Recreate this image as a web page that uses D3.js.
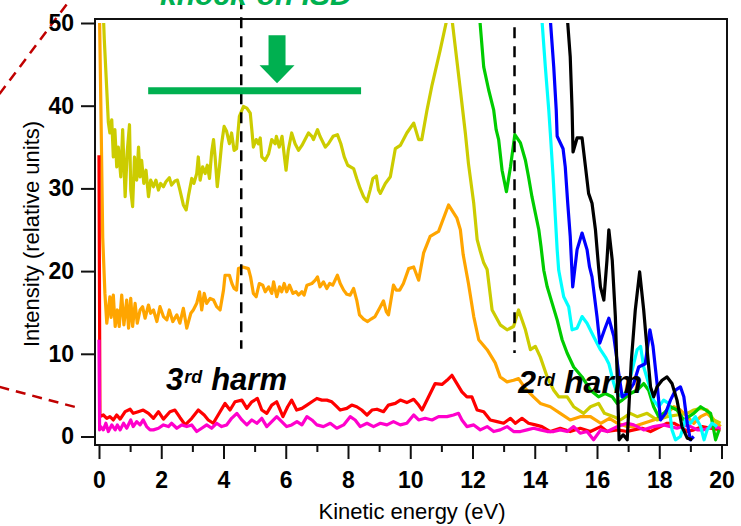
<!DOCTYPE html>
<html>
<head>
<meta charset="utf-8">
<script src="https://cdn.jsdelivr.net/npm/d3@7"></script>
<style>
  body { margin: 0; background: #fff; }
  svg { display: block; }
  text { font-family: "Liberation Sans", Arial, sans-serif; }
</style>
</head>
<body>
<svg id="chart" width="741" height="526"></svg>
<script>
// Photoelectron spectra: intensity vs kinetic energy, one trace per condition.
const xTicks = [0, 2, 4, 6, 8, 10, 12, 14, 16, 18, 20];
const xMinorTicks = [1, 3, 5, 7, 9, 11, 13, 15, 17, 19];
const yTicks = [0, 10, 20, 30, 40, 50];

const seriesColors = {
  orange: "#ffa500", yellow: "#cccc00", red: "#ff0000", magenta: "#ff00cc",
  green: "#00cc00", cyan: "#00ffff", blue: "#0000ff", black: "#000000"
};

const orangePts = [[0.0,55],[0.06,40],[0.12,24],[0.19,17.3],[0.25,13.7],[0.35,16.9],[0.39,14.4],[0.46,17.1],[0.52,13.3],[0.59,15.3],[0.65,13.3],[0.73,17.1],[0.80,13.5],[0.89,16.5],[0.95,13.1],[1.02,16.7],[1.08,13.3],[1.16,16.1],[1.23,13.7],[1.32,15.3],[1.40,15.7],[1.48,14.3],[1.59,15.9],[1.66,14.9],[1.75,15.3],[1.86,13.9],[1.96,15.7],[2.07,14.5],[2.18,14.1],[2.26,15.3],[2.37,13.9],[2.50,14.7],[2.60,13.7],[2.71,15.5],[2.82,13.1],[2.95,14.9],[3.03,15.3],[3.14,16.1],[3.23,17.5],[3.30,15.3],[3.38,17.3],[3.46,16.1],[3.57,16.7],[3.68,16.5],[3.78,15.7],[3.89,15.3],[4.00,17.7],[4.05,19.5],[4.19,19.5],[4.27,18.5],[4.34,17.9],[4.42,17.7],[4.48,20.3],[4.62,20.5],[4.80,20.3],[4.87,19.3],[4.96,17.3],[5.05,16.9],[5.15,18.5],[5.26,18.3],[5.34,17.5],[5.45,18.1],[5.55,17.3],[5.61,18.7],[5.71,16.9],[5.80,18.1],[5.87,17.5],[5.95,18.5],[6.03,17.5],[6.12,18.3],[6.23,17.3],[6.33,17.5],[6.41,17.1],[6.52,17.5],[6.59,17.1],[6.68,18.3],[6.84,18.5],[6.95,18.9],[7.02,19.3],[7.10,18.1],[7.21,18.7],[7.32,17.9],[7.41,18.5],[7.51,18.3],[7.66,19.5],[7.75,18.5],[7.86,17.7],[7.96,17.2],[8.07,17.1],[8.18,17.9],[8.28,16.5],[8.37,14.7],[8.50,14.2],[8.63,13.9],[8.74,14.2],[8.87,14.5],[9.04,15.7],[9.14,16.4],[9.23,15.1],[9.30,14.7],[9.46,18.3],[9.55,17.7],[9.66,17.7],[9.78,18.5],[9.95,20.3],[10.11,20.5],[10.27,18.9],[10.43,22.2],[10.64,24.2],[10.91,24.8],[11.23,28.0],[11.50,26.4],[11.61,25.0],[11.70,22.0],[11.87,18.5],[12.04,14.5],[12.20,11.7],[12.47,10.5],[12.73,8.9],[12.89,7.2],[13.11,6.6],[13.32,6.8],[13.48,7.0],[13.70,5.8],[13.96,4.8],[14.18,4.0],[14.50,3.6],[14.82,2.8],[15.14,2.0],[15.46,2.4],[15.79,2.4],[16.12,1.6],[16.40,2.2],[16.65,1.6],[16.97,1.2],[17.18,1.2],[17.50,1.6],[17.82,2.0],[18.04,2.4],[18.25,2.8],[18.47,3.6],[18.68,3.2],[18.90,2.4],[19.11,1.6],[19.33,2.4],[19.54,2.8],[19.75,2.0],[19.97,1.2]];

const yellowPts = [[0.10,55],[0.17,48],[0.25,41.9],[0.30,38],[0.35,36.7],[0.41,38.3],[0.46,33.8],[0.51,37.1],[0.57,32.6],[0.62,35.0],[0.70,31.4],[0.76,37.1],[0.84,29.0],[0.91,34.6],[0.98,37.7],[1.02,29.8],[1.08,27.8],[1.14,33.8],[1.21,31.0],[1.27,35.0],[1.32,31.4],[1.37,33.4],[1.44,30.6],[1.51,32.2],[1.59,29.0],[1.66,31.0],[1.75,30.2],[1.83,31.0],[1.91,29.8],[1.98,30.6],[2.07,30.2],[2.15,30.8],[2.26,31.3],[2.33,30.4],[2.44,30.9],[2.52,31.0],[2.60,29.8],[2.71,28.0],[2.80,27.4],[2.87,29.0],[2.98,31.2],[3.05,30.6],[3.14,31.8],[3.19,33.8],[3.25,31.0],[3.33,32.6],[3.41,31.8],[3.48,32.8],[3.55,31.2],[3.62,34.4],[3.68,35.9],[3.73,33.8],[3.80,30.2],[3.87,32.6],[3.94,35.4],[4.02,37.5],[4.10,36.9],[4.19,35.4],[4.26,36.7],[4.34,34.6],[4.42,34.8],[4.51,38.7],[4.64,39.9],[4.75,39.7],[4.86,39.1],[4.91,37.1],[4.96,35.0],[5.05,35.9],[5.12,35.4],[5.18,36.1],[5.23,33.8],[5.34,33.4],[5.45,34.2],[5.55,35.9],[5.66,35.4],[5.70,36.3],[5.79,35.0],[5.88,36.3],[6.01,32.2],[6.08,34.6],[6.19,36.7],[6.30,35.4],[6.41,34.6],[6.52,35.2],[6.62,35.9],[6.73,36.7],[6.84,36.3],[6.89,35.9],[7.02,37.1],[7.10,36.3],[7.27,35.0],[7.37,35.4],[7.52,36.3],[7.66,36.5],[7.77,35.4],[7.88,33.8],[7.99,32.8],[8.18,32.4],[8.28,31.2],[8.39,30.0],[8.50,29.0],[8.61,28.4],[8.71,29.8],[8.80,31.2],[8.91,31.5],[8.98,29.8],[9.04,29.4],[9.20,30.6],[9.36,31.4],[9.52,34.8],[9.68,35.2],[9.89,36.7],[10.11,37.9],[10.27,35.9],[10.37,35.9],[10.54,39.5],[10.70,42.5],[10.96,46.7],[11.18,50.5],[11.26,51],[11.34,50.5],[11.61,41.9],[11.77,36.7],[11.87,33.0],[12.04,28.2],[12.15,23.8],[12.25,22.4],[12.36,21.0],[12.47,20.2],[12.63,15.3],[12.89,13.5],[13.11,12.9],[13.32,13.3],[13.48,15.3],[13.70,12.9],[13.86,10.5],[14.02,10.9],[14.18,9.6],[14.40,7.2],[14.61,5.6],[14.77,4.8],[15.04,4.8],[15.25,3.6],[15.57,2.8],[15.79,3.6],[16.05,4.0],[16.24,2.8],[16.54,2.4],[16.75,2.0],[17.07,2.8],[17.29,2.4],[17.61,2.8],[17.93,2.0],[18.25,2.4],[18.57,2.6],[18.90,2.8],[19.11,3.2],[19.33,3.4],[19.54,3.2],[19.75,2.0],[19.97,1.6]];

const redPts = [[0,34],[0.03,2.4],[0.14,2.6],[0.25,2.2],[0.35,2.4],[0.46,2.0],[0.57,2.6],[0.68,2.1],[0.84,3.0],[1.0,3.3],[1.1,2.8],[1.26,3.0],[1.42,3.2],[1.59,2.8],[1.75,2.2],[1.91,3.0],[2.07,2.1],[2.28,3.0],[2.44,3.2],[2.60,2.3],[2.77,1.4],[2.98,2.2],[3.19,3.2],[3.38,2.6],[3.51,2.0],[3.67,1.6],[3.89,3.0],[4.05,4.0],[4.21,3.2],[4.37,4.2],[4.59,4.4],[4.75,3.4],[4.91,4.2],[5.09,4.6],[5.23,3.2],[5.39,2.8],[5.55,3.8],[5.71,4.2],[5.91,2.4],[6.06,3.6],[6.19,4.4],[6.35,3.2],[6.52,3.4],[6.68,3.8],[6.84,4.2],[7.0,4.6],[7.16,4.4],[7.32,4.4],[7.48,4.2],[7.64,3.6],[7.75,3.2],[7.96,3.4],[8.12,3.8],[8.28,3.6],[8.44,3.2],[8.61,2.6],[8.77,3.2],[8.93,3.3],[9.14,3.0],[9.30,3.8],[9.52,4.0],[9.68,4.4],[9.89,4.1],[10.11,4.5],[10.27,3.8],[10.38,3.2],[10.59,4.8],[10.80,6.4],[11.02,6.3],[11.18,6.8],[11.34,7.4],[11.50,6.4],[11.66,5.4],[11.82,4.8],[11.98,4.8],[12.15,3.2],[12.36,3.0],[12.57,2.0],[12.79,1.8],[13.0,1.6],[13.22,2.2],[13.38,1.6],[13.59,2.2],[13.8,1.6],[14.02,1.4],[14.23,1.2],[14.50,0.6],[14.82,1.0],[15.14,0.6],[15.46,1.0],[15.79,0.6],[16.12,1.2],[16.33,0.6],[16.65,0.8],[16.97,0.6],[17.18,0.8],[17.45,1.0],[17.72,0.6],[18.04,1.2],[18.25,1.6],[18.47,1.6],[18.68,1.2],[18.9,0.6],[19.11,0.8],[19.38,1.2],[19.65,1.0],[19.97,0.8]];

const magentaPts = [[0,11.7],[0.02,0.8],[0.05,1.2],[0.14,0.8],[0.22,1.6],[0.30,0.6],[0.41,1.4],[0.52,0.8],[0.59,1.4],[0.68,0.8],[0.79,1.6],[0.89,1.0],[1.02,2.0],[1.10,1.2],[1.21,1.8],[1.32,1.4],[1.42,2.0],[1.53,1.2],[1.64,0.8],[1.75,0.8],[1.91,1.0],[2.07,1.4],[2.23,1.2],[2.33,1.6],[2.50,1.0],[2.66,1.4],[2.82,1.2],[2.98,1.4],[3.14,0.6],[3.30,1.0],[3.46,1.4],[3.62,1.0],[3.78,1.6],[3.94,1.2],[4.10,1.4],[4.26,2.2],[4.43,2.8],[4.59,2.0],[4.75,1.4],[4.91,2.0],[5.07,1.6],[5.23,2.2],[5.39,1.2],[5.55,1.8],[5.71,2.4],[5.87,1.8],[6.03,1.2],[6.19,1.4],[6.36,1.8],[6.52,1.4],[6.68,2.4],[6.84,2.0],[7.0,1.4],[7.21,1.2],[7.43,1.6],[7.64,1.0],[7.86,1.4],[8.07,2.4],[8.23,2.0],[8.39,1.2],[8.61,1.6],[8.82,1.2],[9.04,1.6],[9.25,1.4],[9.46,1.8],[9.68,1.4],[9.89,1.6],[10.11,2.6],[10.27,2.0],[10.48,2.2],[10.70,2.0],[10.91,2.4],[11.18,2.4],[11.39,2.6],[11.55,2.8],[11.66,2.0],[11.82,1.2],[12.04,1.4],[12.25,0.8],[12.47,1.2],[12.68,0.6],[12.89,0.8],[13.11,1.2],[13.32,0.6],[13.54,0.6],[13.75,0.8],[13.96,1.0],[14.18,0.8],[14.40,0.6],[14.61,0.6],[14.82,0.8],[15.04,0.6],[15.25,1.2],[15.46,0.4],[15.68,0.6],[15.89,-0.4],[16.12,0.8],[16.33,0.6],[16.65,1.2],[16.97,1.6],[17.18,1.4],[17.50,0.8],[17.82,1.2],[18.14,1.4],[18.36,1.2],[18.57,1.0],[18.9,1.4],[19.22,0.8],[19.43,0.8],[19.70,1.2],[19.97,1.0]];

const greenPts = [[12.2,52],[12.36,44.7],[12.52,41.9],[12.68,39.5],[12.76,37.1],[12.84,35.9],[12.95,32.2],[13.09,29.6],[13.22,32.6],[13.36,36.5],[13.54,35.5],[13.70,33.4],[13.80,31.4],[13.91,29.0],[14.02,27.0],[14.13,25.0],[14.20,23.0],[14.29,20.1],[14.40,18.1],[14.56,16.1],[14.72,14.1],[14.88,11.7],[15.04,10.1],[15.25,8.4],[15.52,7.2],[15.79,5.6],[16.05,4.8],[16.26,5.2],[16.49,4.8],[16.65,4.0],[16.81,4.4],[17.07,5.2],[17.29,5.6],[17.50,6.4],[17.66,5.6],[17.82,3.6],[17.98,2.4],[18.14,2.8],[18.36,3.6],[18.57,3.2],[18.79,2.0],[18.95,2.4],[19.11,2.8],[19.33,3.6],[19.49,3.2],[19.65,2.8],[19.81,-0.4],[19.92,0.8]];

const cyanPts = [[14.2,52],[14.34,44.7],[14.45,39.5],[14.50,36.7],[14.59,31.4],[14.66,26.6],[14.72,22.6],[14.77,20.1],[14.93,16.9],[15.09,15.7],[15.20,12.9],[15.36,13.1],[15.52,14.5],[15.68,13.7],[15.89,12.1],[16.11,10.5],[16.27,9.6],[16.38,8.8],[16.54,6.4],[16.65,5.2],[16.81,4.8],[16.97,5.6],[17.18,8.8],[17.29,10.5],[17.40,10.9],[17.50,8.4],[17.66,6.4],[17.82,4.4],[17.98,3.6],[18.14,4.4],[18.30,4.0],[18.41,0.8],[18.52,-0.4],[18.68,0.0],[18.84,2.0],[19.0,1.6],[19.16,2.4],[19.33,1.2],[19.44,-0.4],[19.54,0.8],[19.70,1.6],[19.86,1.2]];

const bluePts = [[14.47,52],[14.61,44.7],[14.69,39.5],[14.72,36.3],[14.91,34.8],[14.98,32.6],[15.06,28.2],[15.14,24.2],[15.22,18.1],[15.36,22.6],[15.52,24.6],[15.68,22.6],[15.76,20.5],[15.84,19.3],[16.0,14.5],[16.09,11.3],[16.24,12.9],[16.38,14.3],[16.54,12.1],[16.70,7.6],[16.81,4.8],[16.97,5.2],[17.18,6.4],[17.34,8.4],[17.55,8.8],[17.70,12.9],[17.80,10.9],[17.93,6.4],[18.04,2.0],[18.20,2.8],[18.36,4.4],[18.52,5.6],[18.68,6.0],[18.79,4.8],[18.90,1.6],[19.0,-0.4],[19.11,0.0]];

const blackPts = [[15.02,52],[15.14,45.9],[15.20,39.5],[15.23,34.4],[15.36,36.1],[15.52,36.1],[15.63,32.6],[15.73,29.4],[15.84,28.2],[15.95,25.0],[16.05,20.5],[16.11,18.1],[16.22,16.5],[16.32,21.3],[16.38,25.0],[16.49,21.3],[16.59,14.5],[16.65,7.2],[16.71,-0.4],[16.84,0.2],[16.97,-0.4],[17.10,9.0],[17.23,15.3],[17.37,19.9],[17.50,15.3],[17.61,10.5],[17.72,6.0],[17.82,4.8],[17.93,6.0],[18.09,6.8],[18.25,7.2],[18.41,6.4],[18.57,4.4],[18.73,1.2],[18.90,-0.2],[19.06,-0.4]];

// Drawing order: later traces sit on top.
const traces = [
  { name: "orange", pts: orangePts },
  { name: "yellow", pts: yellowPts },
  { name: "red", pts: redPts },
  { name: "magenta", pts: magentaPts },
  { name: "green", pts: greenPts },
  { name: "cyan", pts: cyanPts },
  { name: "blue", pts: bluePts },
  { name: "black", pts: blackPts }
];

// Annotation values (data units)
const harmonicMarkers = [
  { x: 4.57, y0: 10.6, y1: 53 },
  { x: 13.35, y0: 10.1, y1: 49.5 }
];
const isdBand = { x0: 1.58, x1: 8.42, y: 41.8 };
const isdArrowTip = { x: 5.72, y: 42.7 };
const isdLabel = { text: "knock-on ISD", x: 1.96, y: 52.2 };
const harmLabels = [
  { base: "3", sup: "rd", tail: "harm", x: 2.15, y: 5.6, size: 31 },
  { base: "2", sup: "rd", tail: "harm", x: 13.47, y: 5.25, size: 32 }
];
const zoomGuides = [
  [[-3.2, 41.4], [-0.85, 53.2]],
  [[-3.2, 6.0], [-0.77, 3.57]]
];

// Layout
const frame = { left: 95, right: 727, top: 19, bottom: 445 };
const x = d3.scaleLinear().domain([0, 20]).range([99, 721.5]);
const y = d3.scaleLinear().domain([0, 50]).range([436.5, 23]);

const svg = d3.select("#chart");

// Dashed guides leading in from the left margin
svg.append("g").selectAll("line").data(zoomGuides).join("line")
  .attr("x1", d => x(d[0][0])).attr("y1", d => y(d[0][1]))
  .attr("x2", d => x(d[1][0])).attr("y2", d => y(d[1][1]))
  .attr("stroke", "#c00000").attr("stroke-width", 2.5)
  .attr("stroke-dasharray", "10,7");

// Clip traces at the top of the intensity range
svg.append("clipPath").attr("id", "plotClip")
  .append("rect")
  .attr("x", frame.left).attr("y", y(50))
  .attr("width", frame.right - frame.left)
  .attr("height", frame.bottom - y(50) + 2);

const line = d3.line().x(d => x(d[0])).y(d => y(d[1]));

svg.append("g").attr("clip-path", "url(#plotClip)")
  .selectAll("path").data(traces).join("path")
  .attr("d", d => line(d.pts))
  .attr("fill", "none")
  .attr("stroke", d => seriesColors[d.name])
  .attr("stroke-width", 3.2)
  .attr("stroke-linejoin", "round");

// Frame
svg.append("rect")
  .attr("x", frame.left).attr("y", frame.top)
  .attr("width", frame.right - frame.left).attr("height", frame.bottom - frame.top)
  .attr("fill", "none").attr("stroke", "#111").attr("stroke-width", 2);

// Axes
const yAxis = svg.append("g").attr("transform", `translate(${frame.left},0)`)
  .call(d3.axisLeft(y).tickValues(yTicks).tickSize(14).tickPadding(7).tickSizeOuter(0));
const xAxis = svg.append("g").attr("transform", `translate(0,${frame.bottom})`)
  .call(d3.axisBottom(x).tickValues(xTicks).tickSize(14).tickPadding(13).tickSizeOuter(0));
const xMinor = svg.append("g").attr("transform", `translate(0,${frame.bottom})`)
  .call(d3.axisBottom(x).tickValues(xMinorTicks).tickSize(7).tickFormat("").tickSizeOuter(0));

[yAxis, xAxis, xMinor].forEach(g => {
  g.select(".domain").remove();
  g.selectAll(".tick line").attr("stroke", "#111").attr("stroke-width", 2);
  g.selectAll(".tick text")
    .attr("fill", "#000")
    .style("font-family", '"Liberation Sans", Arial, sans-serif')
    .style("font-size", "23px").style("font-weight", "bold");
});

// Axis titles
svg.append("text")
  .attr("x", (frame.left + frame.right) / 2 + 1).attr("y", 519)
  .attr("text-anchor", "middle")
  .style("font-size", "22px")
  .text("Kinetic energy (eV)");
svg.append("text")
  .attr("transform", `translate(39,${(frame.top + frame.bottom) / 2 + 2}) rotate(-90)`)
  .attr("text-anchor", "middle")
  .style("font-size", "22px")
  .text("Intensity (relative units)");

// Harmonic position markers
svg.append("g").selectAll("line").data(harmonicMarkers).join("line")
  .attr("x1", d => x(d.x)).attr("x2", d => x(d.x))
  .attr("y1", d => y(d.y1)).attr("y2", d => y(d.y0))
  .attr("stroke", "#000").attr("stroke-width", 2.5)
  .attr("stroke-dasharray", "11,8");

// Knock-on ISD band, arrow and label
const isdGreen = "#00b050";
svg.append("line")
  .attr("x1", x(isdBand.x0)).attr("x2", x(isdBand.x1))
  .attr("y1", y(isdBand.y)).attr("y2", y(isdBand.y))
  .attr("stroke", isdGreen).attr("stroke-width", 7);

const tx = x(isdArrowTip.x), ty = y(isdArrowTip.y);
const arrowShape = [[0,0],[-17.5,-18],[-8.5,-18],[-8.5,-48],[8.5,-48],[8.5,-18],[17.5,-18]];
svg.append("polygon")
  .attr("points", arrowShape.map(p => `${tx + p[0]},${ty + p[1]}`).join(" "))
  .attr("fill", isdGreen);

svg.append("text")
  .attr("x", x(isdLabel.x)).attr("y", y(isdLabel.y))
  .attr("fill", isdGreen)
  .style("font-size", "30px").style("font-weight", "bold").style("font-style", "italic")
  .text(isdLabel.text);

// Harmonic labels with superscripts
harmLabels.forEach(l => {
  const t = svg.append("text")
    .attr("x", x(l.x)).attr("y", y(l.y))
    .attr("fill", "#000")
    .style("font-weight", "bold").style("font-style", "italic");
  t.append("tspan").style("font-size", `${l.size}px`).text(l.base);
  t.append("tspan").attr("dy", -7).attr("dx", 1).style("font-size", "18px").text(l.sup);
  t.append("tspan").attr("dy", 7).attr("dx", 9).style("font-size", `${l.size}px`).text(l.tail);
});
</script>
</body>
</html>
